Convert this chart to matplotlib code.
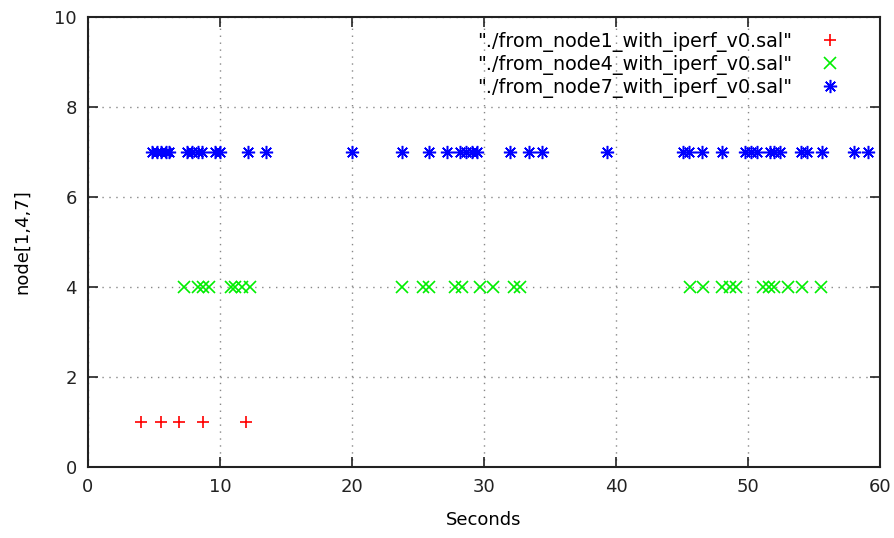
import matplotlib
matplotlib.use("Agg")
import matplotlib.pyplot as plt

node1_x = [4.0, 5.5, 6.9, 8.7, 12.0]
node1_y = [1] * len(node1_x)

node4_x = [7.3, 8.3, 8.7, 9.2, 10.8, 11.1, 11.7, 12.3,
           23.8, 25.4, 25.8, 27.8, 28.3, 29.7, 30.7, 32.3, 32.7,
           45.6, 46.6, 48.0, 48.6, 49.1, 51.1, 51.6, 52.0, 53.0, 54.1, 55.5]
node4_y = [4] * len(node4_x)

node7_x = [4.85, 5.2, 5.5, 5.9, 6.1, 7.5, 7.9, 8.3, 8.6, 9.6, 10.0,
           12.1, 13.5, 20.0, 23.8, 25.8, 27.2, 28.2, 28.6, 29.1, 29.5,
           32.0, 33.4, 34.4, 39.3, 45.1, 45.5, 46.5, 48.0, 49.8, 50.2, 50.7,
           51.7, 52.0, 52.4, 54.0, 54.5, 55.6, 58.0, 59.1]
node7_y = [7] * len(node7_x)

labels = ['"./from_node1_with_iperf_v0.sal"',
          '"./from_node4_with_iperf_v0.sal"',
          '"./from_node7_with_iperf_v0.sal"']

fig = plt.figure(figsize=(8.95, 5.38), dpi=100)
ax = fig.add_axes([0.0983, 0.132, 0.885, 0.836])

ax.plot(node1_x, node1_y, linestyle='none', marker='+', color='#ff0000',
        markersize=9, markeredgewidth=1.2, label=labels[0])
ax.plot(node4_x, node4_y, linestyle='none', marker='x', color='#00ee00',
        markersize=8, markeredgewidth=1.2, label=labels[1])
ax.plot(node7_x, node7_y, linestyle='none', marker=(8, 2, 0), color='#0000ff',
        markersize=9.5, markeredgewidth=1.1, label=labels[2])

ax.set_xlim(0, 60)
ax.set_ylim(0, 10)
ax.set_xticks([0, 10, 20, 30, 40, 50, 60])
ax.set_yticks([0, 2, 4, 6, 8, 10])
ax.grid(True, linestyle=(0, (1, 4)), color='#888888', linewidth=1)
ax.tick_params(direction='in', length=7, width=1.2, top=True, right=True,
               labelsize=13, pad=8, colors='#222222')
for s in ax.spines.values():
    s.set_linewidth(1.5)
    s.set_color('#222222')

ax.set_xlabel('Seconds', fontsize=13, labelpad=11)
ax.set_ylabel('node[1,4,7]', fontsize=13, labelpad=17)

leg = ax.legend(loc='upper right', markerfirst=False, frameon=False,
                fontsize=13.8, handlelength=2.0, handletextpad=1.0,
                borderaxespad=0.0, labelspacing=0.17,
                bbox_to_anchor=(0.971, 0.985))

fig.savefig('out.png', dpi=100)
